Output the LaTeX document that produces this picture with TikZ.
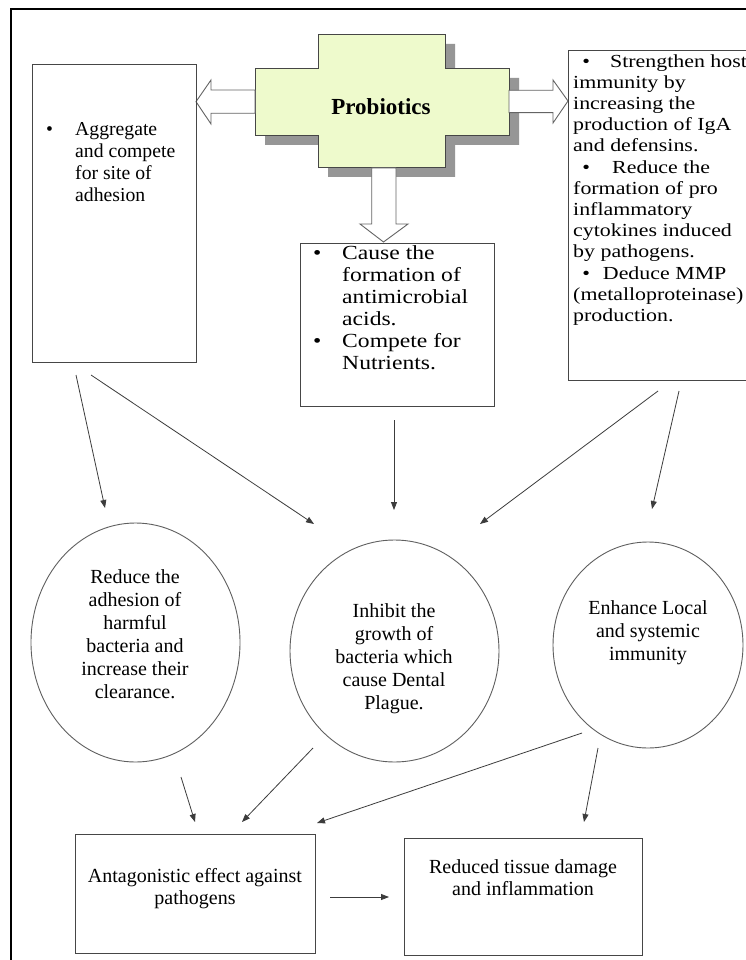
\documentclass[tikz,border=0pt]{standalone}
\usepackage{fontspec}
\setmainfont{Liberation Serif}
\usetikzlibrary{shapes.geometric,arrows.meta}
\definecolor{crossfill}{RGB}{238,250,204}
\definecolor{shadowc}{RGB}{150,150,150}
\definecolor{boxc}{RGB}{70,70,70}
\definecolor{circc}{RGB}{95,95,95}
\definecolor{linec}{RGB}{60,60,60}
\definecolor{blockc}{RGB}{100,100,100}
\begin{document}
\begin{tikzpicture}[x=1pt,y=-1pt,
  box/.style={draw=boxc, line width=1pt, rectangle, inner sep=0pt, anchor=north west},
  circ/.style={draw=circc, line width=0.9pt, ellipse, inner sep=0pt},
  txt/.style={inner sep=0pt, align=center, font=\fontsize{20}{23}\selectfont},
  listtxt/.style={inner sep=0pt, anchor=west},
  conn/.style={draw=linec, line width=0.8pt, -{Triangle[length=8pt,width=6pt]}},
  blockarrow/.style={draw=blockc, fill=white, line width=0.9pt}]
\useasboundingbox (0,0) rectangle (745,960);
\fill[white] (0,0) rectangle (745,960);
% frame
\draw[line width=2pt, black] (11,970) -- (11,9.5) -- (760,9.5);

% cross with shadow
\fill[shadowc] (328,44) -- (455,44) -- (455,78) -- (519,78) -- (519,145) -- (455,145) -- (455,177) -- (328,177) -- (328,145) -- (265,145) -- (265,78) -- (328,78) -- cycle;
\draw[fill=crossfill, draw=boxc, line width=1pt] (318,35) -- (445,35) -- (445,69) -- (509,69) -- (509,136) -- (445,136) -- (445,168) -- (318,168) -- (318,136) -- (255,136) -- (255,69) -- (318,69) -- cycle;
\node[inner sep=0pt, font=\fontsize{23}{27}\selectfont\bfseries] (prob) at (381,107) {Probiotics};

% block arrows
\draw[blockarrow] (255,90) -- (211,90) -- (211,80) -- (196,101.7) -- (211,124) -- (211,113.3) -- (255,113.3) -- cycle;
\draw[blockarrow] (509,90.3) -- (553,90.3) -- (553,80) -- (568,101) -- (553,123) -- (553,112.7) -- (509,112.7) -- cycle;
\draw[blockarrow] (371.7,168) -- (371.7,224) -- (360,224) -- (383.5,242) -- (408,224) -- (396,224) -- (396,168) -- cycle;

% boxes
\node[box, minimum width=164pt, minimum height=298pt] (lbox) at (32,64) {};
\node[box, minimum width=194pt, minimum height=163pt] (mbox) at (300,243) {};
\node[box, minimum width=190pt, minimum height=330pt] (rbox) at (568,50) {};
\node[box, minimum width=240pt, minimum height=119pt] (abox) at (75,834) {};
\node[box, minimum width=238pt, minimum height=117pt] (tbox) at (404,838) {};

% box texts
\node[listtxt] (ltext) at (46,164) {\fontsize{19.7}{22}\selectfont
  \begin{tabular}{@{}l@{}}
  \makebox[29pt][l]{\textbullet}Aggregate\\
  \hspace*{29pt}and compete\\
  \hspace*{29pt}for site of\\
  \hspace*{29pt}adhesion
  \end{tabular}};
\node[listtxt] (mtext) at (313,310) {\scalebox{1.18}[1]{\fontsize{20}{22}\selectfont
  \begin{tabular}{@{}l@{}}
  \makebox[24.6pt][l]{\textbullet}Cause the\\
  \hspace*{24.6pt}formation of\\
  \hspace*{24.6pt}antimicrobial\\
  \hspace*{24.6pt}acids.\\
  \makebox[24.6pt][l]{\textbullet}Compete for\\
  \hspace*{24.6pt}Nutrients.
  \end{tabular}}};
\node[listtxt] (rtext) at (573,190) {\scalebox{1.19}[1]{\fontsize{18.4}{21.2}\selectfont
  \begin{tabular}{@{}l@{}}
  \makebox[31pt][l]{\hspace*{7.6pt}\textbullet}Strengthen host\\
  immunity by\\
  increasing the\\
  production of IgA\\
  and defensins.\\
  \makebox[32.8pt][l]{\hspace*{7.6pt}\textbullet}Reduce the\\
  formation of pro\\
  inflammatory\\
  cytokines induced\\
  by pathogens.\\
  \makebox[25pt][l]{\hspace*{7.6pt}\textbullet}Deduce MMP\\
  (metalloproteinase)\\
  production.
  \end{tabular}}};

% ellipses
\node[circ, minimum width=209pt, minimum height=239pt] (c1) at (135.5,642.5) {};
\node[circ, minimum width=209pt, minimum height=222pt] (c2) at (394.5,651) {};
\node[circ, minimum width=190pt, minimum height=206pt] (c3) at (648,645) {};
\node[txt] (c1t) at (135,634.5) {Reduce the\\adhesion of\\harmful\\bacteria and\\increase their\\clearance.};
\node[txt] (c2t) at (394,658.5) {Inhibit the\\growth of\\bacteria which\\cause Dental\\Plague.};
\node[txt] (c3t) at (648,633) {Enhance Local\\and systemic\\immunity};

% bottom texts
\node[txt, font=\fontsize{20}{22}\selectfont] (at) at (195,889) {Antagonistic effect against\\pathogens};
\node[txt, font=\fontsize{20}{22}\selectfont] (tt) at (523,877.5) {Reduced tissue damage\\and inflammation};

% connector end points
\coordinate (a1s) at (76,375);  \coordinate (a1e) at (105,508);
\coordinate (a2s) at (91,375);  \coordinate (a2e) at (314,524);
\coordinate (a3s) at (394,420); \coordinate (a3e) at (394,510);
\coordinate (a4s) at (658,391); \coordinate (a4e) at (480,524);
\coordinate (a5s) at (679,391); \coordinate (a5e) at (652,509);
\coordinate (b1s) at (181,777); \coordinate (b1e) at (195,822);
\coordinate (b2s) at (313,748); \coordinate (b2e) at (242,822);
\coordinate (b3s) at (582,733); \coordinate (b3e) at (317,823);
\coordinate (b4s) at (598,748); \coordinate (b4e) at (584,822);
\coordinate (hs) at (330,897);  \coordinate (he) at (389,897);

\draw[conn] (a1s) -- (a1e);
\draw[conn] (a2s) -- (a2e);
\draw[conn] (a3s) -- (a3e);
\draw[conn] (a4s) -- (a4e);
\draw[conn] (a5s) -- (a5e);
\draw[conn] (b1s) -- (b1e);
\draw[conn] (b2s) -- (b2e);
\draw[conn] (b3s) -- (b3e);
\draw[conn] (b4s) -- (b4e);
\draw[conn] (hs) -- (he);
\end{tikzpicture}
\end{document}
